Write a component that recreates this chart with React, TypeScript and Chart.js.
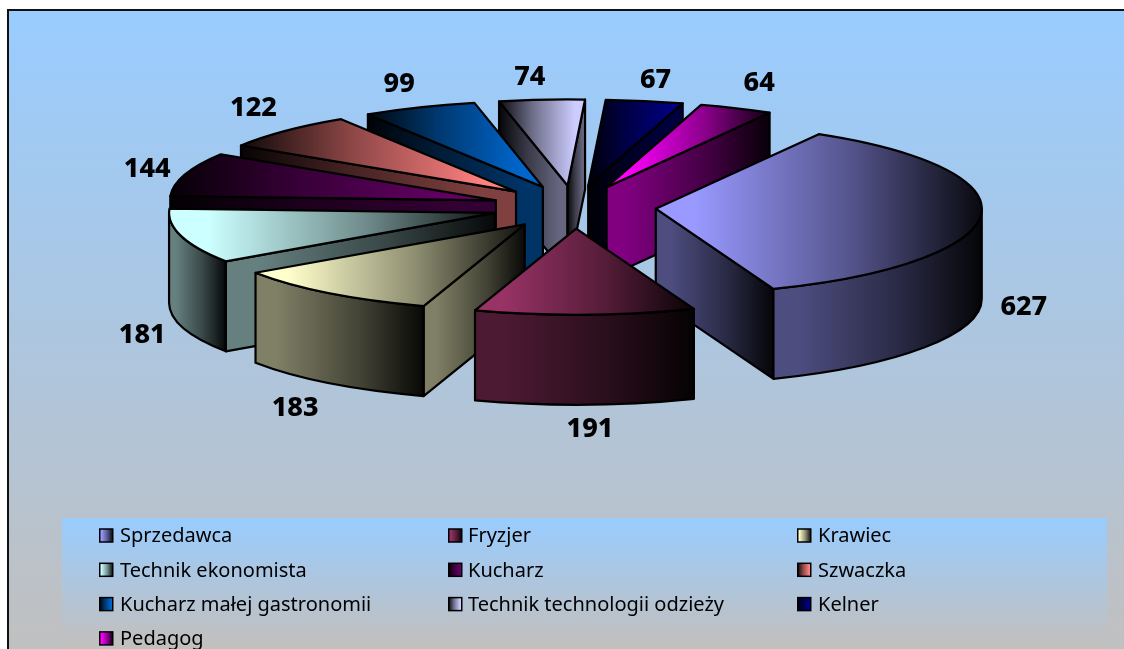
import React, { useEffect, useRef } from "react";
import { Chart, registerables } from "chart.js";

Chart.register(...registerables);

const categories = ["Sprzedawca", "Fryzjer", "Krawiec", "Technik ekonomista", "Kucharz", "Szwaczka", "Kucharz małej gastronomii", "Technik technologii odzieży", "Kelner", "Pedagog"];
const values = [627, 191, 183, 181, 144, 122, 99, 74, 67, 64];
const baseColors = [[153, 153, 255], [153, 51, 102], [255, 255, 204], [204, 255, 255], [102, 0, 102], [255, 128, 128], [0, 102, 204], [204, 204, 255], [0, 0, 128], [255, 0, 255]];
const darkFirst = [false, false, false, false, true, true, true, true, true, false];
const labelNudges = [[43, 91], [5, 114], [-34, 114], [-39, 98], [-38, -6], [-32, -24], [-20, -24], [-12, -23], [11, -22], [23, -26]];

const SY = 86 / 326;
const EXPLODE = 82;
const DEPTH = 90;
const FONT = '"Noto Sans", sans-serif';

const rgb = (c: number[], k = 1) => `rgb(${Math.round(c[0] * k)},${Math.round(c[1] * k)},${Math.round(c[2] * k)})`;

function hGrad(ctx: CanvasRenderingContext2D, x0: number, x1: number, c: number[], k: number, rev: boolean) {
  const g = ctx.createLinearGradient(x0, 0, x1, 0);
  const pos = (t: number) => (rev ? 1 - t : t);
  g.addColorStop(pos(0), rgb(c, k));
  g.addColorStop(pos(0.12), rgb(c, k));
  g.addColorStop(pos(0.6), rgb(c, k * 0.55));
  g.addColorStop(pos(1), rgb(c, k * 0.06));
  return g;
}

function geometry(arc: any) {
  const mid = (arc.startAngle + arc.endAngle) / 2;
  const ax = arc.x + Math.cos(mid) * EXPLODE;
  const ay = arc.y + Math.sin(mid) * EXPLODE * SY;
  const rx = arc.outerRadius;
  const ry = arc.outerRadius * SY;
  return { mid, ax, ay, rx, ry };
}

const piePlugin = {
  id: "pie3d",
  beforeDraw(chart: any) {
    const { ctx, width, height } = chart;
    const g = ctx.createLinearGradient(0, 10, 0, 649);
    g.addColorStop(0, "#99ccff");
    g.addColorStop(1, "#c0c0c0");
    ctx.save();
    ctx.fillStyle = g;
    ctx.fillRect(8, 10, width - 8, height - 10);
    ctx.strokeStyle = "#111";
    ctx.lineWidth = 2;
    ctx.beginPath();
    ctx.moveTo(8, height);
    ctx.lineTo(8, 10);
    ctx.lineTo(width, 10);
    ctx.stroke();
    ctx.restore();
  },
  beforeDatasetsDraw(chart: any) {
    const { ctx } = chart;
    const arcs: any[] = chart.getDatasetMeta(0).data;
    const order = arcs.map((_, i) => i).sort((a, b) => {
      const ma = (arcs[a].startAngle + arcs[a].endAngle) / 2;
      const mb = (arcs[b].startAngle + arcs[b].endAngle) / 2;
      return Math.sin(ma) - Math.sin(mb);
    });
    ctx.save();
    ctx.lineJoin = "round";
    ctx.lineWidth = 2.2;
    ctx.strokeStyle = "#000";
    for (const i of order) {
      const arc = arcs[i];
      const { ax, ay, rx, ry } = geometry(arc);
      const c = baseColors[i];
      const rev = darkFirst[i];
      const a0 = arc.startAngle;
      const a1 = arc.endAngle;
      // radial walls that face the viewer
      const radial: number[] = [];
      if (-Math.cos(a0) > 0) radial.push(a0);
      if (Math.cos(a1) > 0) radial.push(a1);
      for (const a of radial) {
        const ex = ax + Math.cos(a) * rx;
        const ey = ay + Math.sin(a) * ry;
        ctx.beginPath();
        ctx.moveTo(ax, ay);
        ctx.lineTo(ex, ey);
        ctx.lineTo(ex, ey + DEPTH);
        ctx.lineTo(ax, ay + DEPTH);
        ctx.closePath();
        ctx.fillStyle = hGrad(ctx, Math.min(ax, ex), Math.max(ax, ex), c, 0.5, rev);
        ctx.fill();
        ctx.stroke();
      }
      // outer wall: only the part of the rim that faces the viewer
      const f0 = Math.max(a0, 0);
      const f1 = Math.min(a1, Math.PI);
      if (f1 > f0) {
        const xs = [f0, f1].map((a) => ax + Math.cos(a) * rx);
        ctx.beginPath();
        ctx.ellipse(ax, ay, rx, ry, 0, f0, f1);
        ctx.ellipse(ax, ay + DEPTH, rx, ry, 0, f1, f0, true);
        ctx.closePath();
        ctx.fillStyle = hGrad(ctx, Math.min(...xs), Math.max(...xs), c, 0.5, rev);
        ctx.fill();
        ctx.stroke();
      }
      // top face
      let minX = ax;
      let maxX = ax;
      for (let t = 0; t <= 24; t++) {
        const x = ax + Math.cos(a0 + ((a1 - a0) * t) / 24) * rx;
        minX = Math.min(minX, x);
        maxX = Math.max(maxX, x);
      }
      ctx.beginPath();
      ctx.moveTo(ax, ay);
      ctx.ellipse(ax, ay, rx, ry, 0, a0, a1);
      ctx.closePath();
      ctx.fillStyle = hGrad(ctx, minX, maxX, c, 1, rev);
      ctx.fill();
      ctx.stroke();
    }
    ctx.restore();
    return false;
  },
  afterDraw(chart: any) {
    const { ctx } = chart;
    const arcs: any[] = chart.getDatasetMeta(0).data;
    ctx.save();
    // value labels
    ctx.font = `800 27px ${FONT}`;
    ctx.fillStyle = "#000";
    ctx.textAlign = "center";
    ctx.textBaseline = "middle";
    arcs.forEach((arc, i) => {
      const { mid, ax, ay, rx, ry } = geometry(arc);
      const x = ax + Math.cos(mid) * rx + labelNudges[i][0];
      const y = ay + Math.sin(mid) * ry + labelNudges[i][1] + 1;
      ctx.fillText(String(values[i]), x, y);
    });
    // legend
    const lg = ctx.createLinearGradient(0, 518, 0, 640);
    lg.addColorStop(0, "#99ccff");
    lg.addColorStop(1, "#c0c0c0");
    ctx.fillStyle = lg;
    ctx.fillRect(62, 518, 1045, 131);
    ctx.font = `20px ${FONT}`;
    ctx.textAlign = "left";
    const swatchX = [99.75, 448.75, 797.75];
    const textX = [120, 468, 818];
    categories.forEach((name, i) => {
      const col = i % 3;
      const row = Math.floor(i / 3);
      const x = swatchX[col];
      const y = 536 + row * 34.3;
      ctx.fillStyle = hGrad(ctx, x, x + 13, baseColors[i], 1, darkFirst[i]);
      ctx.fillRect(x, y - 7, 13, 13);
      ctx.strokeStyle = "#000";
      ctx.lineWidth = 1.5;
      ctx.strokeRect(x, y - 7, 13, 13);
      ctx.fillStyle = "#000";
      ctx.fillText(name, textX[col], y + 0.5);
    });
    ctx.restore();
  },
};

export default function App() {
  const ref = useRef<HTMLCanvasElement>(null);
  useEffect(() => {
    document.body.style.margin = "0";
    document.documentElement.style.overflow = "hidden";
    const chart = new Chart(ref.current as HTMLCanvasElement, {
      type: "pie",
      data: {
        labels: categories,
        datasets: [{ data: values, backgroundColor: baseColors.map((c) => rgb(c)), borderWidth: 0 }],
      },
      options: {
        responsive: false,
        animation: false,
        events: [],
        rotation: 30,
        radius: 326,
        layout: { padding: { left: 24, right: 0, top: 0, bottom: 235 } },
        plugins: { legend: { display: false }, tooltip: { enabled: false } },
      },
      plugins: [piePlugin],
    } as any);
    return () => chart.destroy();
  }, []);
  return (
    <div style={{ position: "absolute", left: 0, top: 0, width: 1124, height: 649, background: "#fff" }}>
      <canvas ref={ref} width={1124} height={649} style={{ display: "block", width: 1124, height: 649 }} />
    </div>
  );
}
